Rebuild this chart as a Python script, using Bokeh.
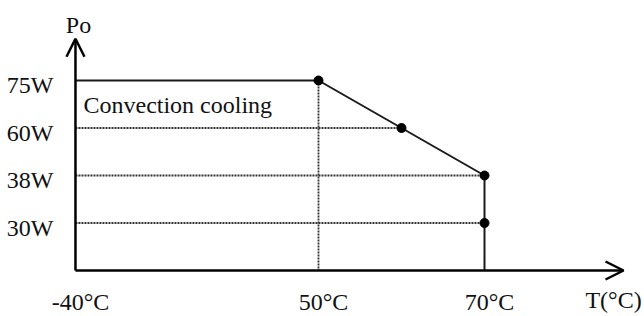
from bokeh.plotting import figure
from bokeh.models import Range1d, Arrow, OpenHead, ColumnDataSource
from bokeh.core.properties import value
from bokeh.embed import file_html
from bokeh.resources import INLINE

# ---- data ----
temp_tick_values = [-40, 50, 70]
temp_tick_labels = ["-40°C", "50°C", "70°C"]
power_values = [30, 38, 60, 75]
power_labels = ["30W", "38W", "60W", "75W"]
curve_T = [-40, 50, 60, 70, 70]
curve_P = [75, 75, 60, 38, 0]
marker_T = [50, 60, 70, 70]
marker_P = [75, 60, 38, 30]
guide_P = [60, 38, 30]
guide_T = [60, 70, 70]
region_label = "Convection cooling"
x_title = "T(°C)"
y_title = "Po"

# ---- schematic (broken) axes ----
AXIS_X = 20.72          # display position of the -40°C origin (axis is broken)
X_TIP = 86.75           # end of x arrow
Y_TIP = 4.88            # end of y arrow (in power-level units)


def tx(t):
    return AXIS_X if t == -40 else t


def ly(p):
    # evenly spaced schematic power levels
    return 0 if p == 0 else power_values.index(p) + 1


FONT = value("Liberation Serif")
FS = value("24px")

p = figure(width=644, height=316, output_backend="svg", toolbar_location=None,
           x_range=Range1d(11.687, 89.277), y_range=Range1d(-0.9684, 5.6842),
           x_axis_type=None, y_axis_type=None, min_border=0)
p.outline_line_color = None
p.grid.visible = False

# dotted guide lines
for P, T in zip(guide_P, guide_T):
    p.line([AXIS_X, tx(T)], [ly(P), ly(P)], line_color="#333333", line_width=1.8,
           line_dash="2 1")
p.line([tx(50), tx(50)], [ly(75), 0], line_color="#333333", line_width=1.8,
       line_dash="2 1")

# derating curve
p.line([tx(t) for t in curve_T], [ly(v) for v in curve_P], line_color="#1a1a1a",
       line_width=2)
p.scatter([tx(t) for t in marker_T], [ly(v) for v in marker_P], size=9,
          fill_color="black", line_color="black")

# axes with arrows
p.add_layout(Arrow(x_start=AXIS_X, y_start=0, x_end=AXIS_X, y_end=Y_TIP,
                   line_width=2.5, line_color="black",
                   end=OpenHead(size=18, line_width=2.5, line_color="black")))
p.add_layout(Arrow(x_start=AXIS_X, y_start=0, x_end=X_TIP, y_end=0,
                   line_width=2.5, line_color="black",
                   end=OpenHead(size=18, line_width=2.5, line_color="black")))

# y tick labels
ysrc = ColumnDataSource(dict(x=[AXIS_X] * len(power_values),
                             y=[ly(v) for v in power_values], t=power_labels))
p.text(x="x", y="y", text="t", source=ysrc, text_font=FONT, text_font_size=FS,
       text_align="right", text_baseline="alphabetic", x_offset=-22, y_offset=4.5,
       text_color="#111111")

# x tick labels
xsrc = ColumnDataSource(dict(x=[tx(t) for t in temp_tick_values],
                             y=[0] * len(temp_tick_values), t=temp_tick_labels))
p.text(x="x", y="y", text="t", source=xsrc, text_font=FONT, text_font_size=FS,
       text_align="center", text_baseline="alphabetic", x_offset=5, y_offset=31,
       text_color="#111111")

# titles
p.text(x=[X_TIP], y=[0], text=[x_title], text_font=FONT, text_font_size=FS,
       text_align="center", text_baseline="alphabetic", x_offset=-10, y_offset=29,
       text_color="#111111")
p.text(x=[AXIS_X], y=[Y_TIP], text=[y_title], text_font=FONT, text_font_size=FS,
       text_align="center", text_baseline="alphabetic", x_offset=3, y_offset=-14,
       text_color="#111111")
p.text(x=[AXIS_X], y=[ly(75)], text=[region_label], text_font=FONT, text_font_size=FS,
       text_align="left", text_baseline="alphabetic", x_offset=8, y_offset=25,
       text_color="#111111")

open("out.html", "w").write(file_html(p, INLINE))
